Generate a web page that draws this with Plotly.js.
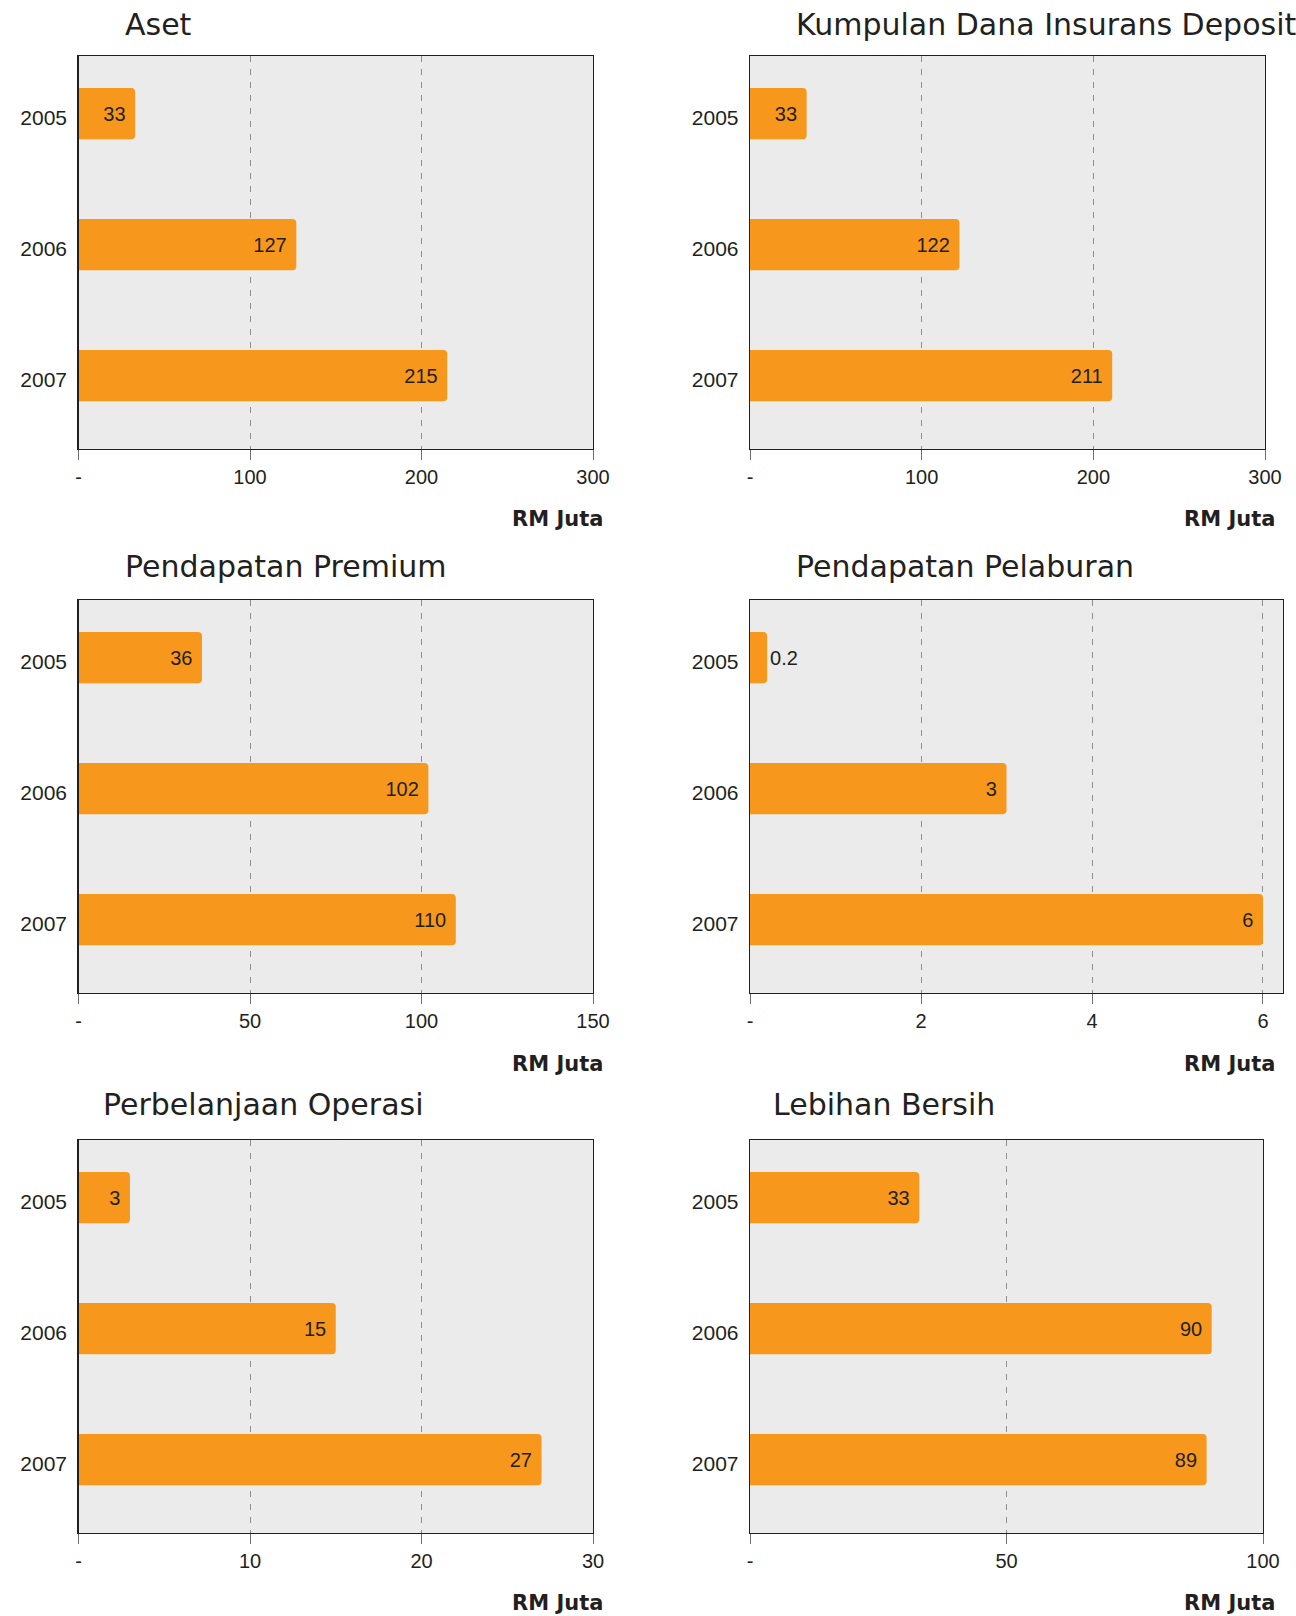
<!DOCTYPE html>
<html>
<head>
<meta charset="utf-8">
<script src="https://cdn.plot.ly/plotly-3.0.1.min.js"></script>
<style>
  html, body { margin: 0; padding: 0; background: #ffffff; }
  #chart { width: 1296px; height: 1616px; }
</style>
</head>
<body>
<div id="chart"></div>
<script>
// ---- data ----
const years = ['2005', '2006', '2007'];

const titles = ['Aset', 'Kumpulan Dana Insurans Deposit', 'Pendapatan Premium',
                'Pendapatan Pelaburan', 'Perbelanjaan Operasi', 'Lebihan Bersih'];

const asetValues      = [33, 127, 215];
const kumpulanValues  = [33, 122, 211];
const premiumValues   = [36, 102, 110];
const pelaburanValues = [0.2, 3, 6];
const operasiValues   = [3, 15, 27];
const lebihanValues   = [33, 90, 89];

const asetTicks      = [0, 100, 200, 300];
const kumpulanTicks  = [0, 100, 200, 300];
const premiumTicks   = [0, 50, 100, 150];
const pelaburanTicks = [0, 2, 4, 6];
const operasiTicks   = [0, 10, 20, 30];
const lebihanTicks   = [0, 50, 100];

const unitLabel = 'RM Juta';

// ---- styling / layout ----
const W = 1296, H = 1616;
const ORANGE = '#F7981D';
const DARK = '#231f20';
const NUMFONT = 'Liberation Sans, Arial, sans-serif';
const TITLEFONT = 'DejaVu Sans, sans-serif';

// plot rectangles in pixels: [left, right, top, bottom]
const panels = [
  { vals: asetValues,      ticks: asetTicks,      max: 300,   rect: [78.5, 593, 56, 449],   title: [123, 25] },
  { vals: kumpulanValues,  ticks: kumpulanTicks,  max: 300,   rect: [750, 1265, 56, 449],   title: [794, 25] },
  { vals: premiumValues,   ticks: premiumTicks,   max: 150,   rect: [78.5, 593, 600, 993],  title: [123, 566] },
  { vals: pelaburanValues, ticks: pelaburanTicks, max: 6.234, rect: [750, 1283, 600, 993],  title: [794, 566] },
  { vals: operasiValues,   ticks: operasiTicks,   max: 30,    rect: [78.5, 593, 1140, 1533], title: [101, 1104] },
  { vals: lebihanValues,   ticks: lebihanTicks,   max: 100,   rect: [750, 1263, 1140, 1533], title: [771, 1104] }
];

const unitPos = [[605, 519], [1277, 519], [605, 1064], [1277, 1064], [605, 1603], [1277, 1603]];

const data = [];
const layout = {
  width: W, height: H,
  margin: { l: 0, r: 0, t: 0, b: 0 },
  paper_bgcolor: '#ffffff',
  plot_bgcolor: '#EAEBEA',
  showlegend: false,
  barcornerradius: 4,
  annotations: []
};

panels.forEach((p, i) => {
  const n = i + 1;
  const xa = n === 1 ? 'x' : 'x' + n;
  const ya = n === 1 ? 'y' : 'y' + n;
  const [l, r, t, b] = p.rect;

  data.push({
    type: 'bar',
    orientation: 'h',
    x: p.vals,
    y: years,
    xaxis: xa, yaxis: ya,
    width: 0.39,
    marker: { color: ORANGE, line: { width: 0 } },
    text: p.vals.map(v => String(v) + '\u00a0'),
    textposition: 'auto',
    insidetextanchor: 'end',
    textangle: 0,
    constraintext: 'none',
    textfont: { family: NUMFONT, size: 20, color: DARK },
    insidetextfont: { family: NUMFONT, size: 20, color: DARK },
    outsidetextfont: { family: NUMFONT, size: 20, color: DARK },
    cliponaxis: false,
    hoverinfo: 'skip'
  });

  layout['xaxis' + (n === 1 ? '' : n)] = {
    domain: [l / W, r / W],
    anchor: ya,
    range: [0, p.max],
    tickmode: 'array',
    tickvals: p.ticks,
    ticktext: p.ticks.map(v => v === 0 ? '-' : String(v)),
    ticks: 'outside', ticklen: 10, tickwidth: 1, tickcolor: '#6d6e71',
    ticklabelstandoff: 0,
    tickfont: { family: NUMFONT, size: 20, color: DARK },
    showline: true, mirror: true, linecolor: DARK, linewidth: 1.3,
    showgrid: true, gridcolor: '#8f8f8f', gridwidth: 1, griddash: '6px,7px',
    zeroline: false, fixedrange: true
  };
  layout['yaxis' + (n === 1 ? '' : n)] = {
    domain: [1 - b / H, 1 - t / H],
    anchor: xa,
    type: 'category',
    categoryorder: 'array', categoryarray: years,
    range: [2.56, -0.44],
    autorange: false,
    ticks: '',
    ticklabelstandoff: 6,
    ticklabelshift: -4,
    tickfont: { family: NUMFONT, size: 21, color: DARK },
    showline: true, mirror: true, linecolor: DARK, linewidth: 1.3,
    showgrid: false, zeroline: false, fixedrange: true
  };

  layout.annotations.push({
    text: titles[i], xref: 'paper', yref: 'paper',
    x: p.title[0] / W, y: 1 - p.title[1] / H,
    xanchor: 'left', yanchor: 'middle', showarrow: false,
    font: { family: TITLEFONT, size: 30, color: DARK }
  });
  layout.annotations.push({
    text: '<b>' + unitLabel + '</b>', xref: 'paper', yref: 'paper',
    x: unitPos[i][0] / W, y: 1 - unitPos[i][1] / H,
    xanchor: 'right', yanchor: 'middle', showarrow: false,
    font: { family: 'DejaVu Sans, sans-serif', size: 21, color: DARK }
  });
});

Plotly.newPlot('chart', data, layout, { staticPlot: true, displayModeBar: false });
</script>
</body>
</html>
